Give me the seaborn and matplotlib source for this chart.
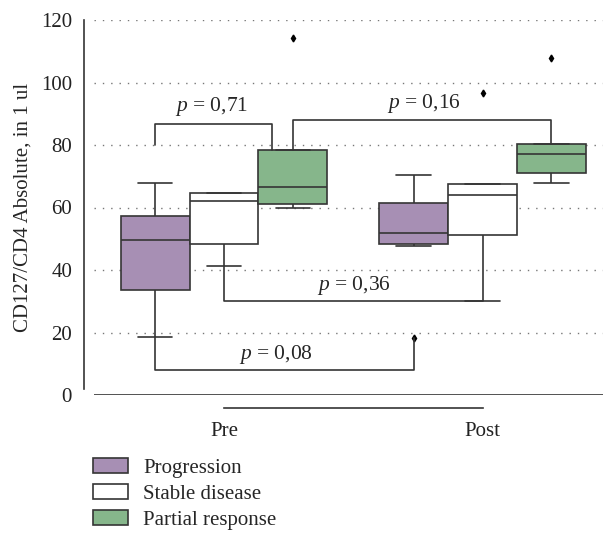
import pandas as pd
import matplotlib
matplotlib.use('Agg')
import matplotlib.pyplot as plt
import seaborn as sns
import numpy as np

# values (per group: whisker ends, quartiles, median, outliers)
times = ['Pre', 'Post']
responses = ['Progression', 'Stable disease', 'Partial response']
colors = ['#A78FB4', '#FFFFFF', '#86B68B']

pre_progression = [18.7, 28.0, 33.6, 42.0, 49.7, 54.0, 57.4, 62.0, 67.8]
pre_stable = [41.4, 45.0, 48.4, 55.0, 62.2, 63.0, 64.5, 64.5, 64.5]
pre_partial = [60.0, 60.5, 61.0, 64.0, 66.7, 72.0, 78.5, 78.5, 114.3]
post_progression = [18.1, 47.8, 48.4, 50.0, 52.0, 57.0, 61.4, 65.0, 70.4]
post_stable = [30.1, 45.0, 51.2, 60.0, 64.1, 66.0, 67.4, 67.4, 96.8]
post_partial = [67.8, 69.5, 71.1, 74.0, 77.1, 79.0, 80.3, 80.3, 107.9]

p_labels = ['0,71', '0,16', '0,36', '0,08']

groups = {
    ('Pre', 'Progression'): pre_progression,
    ('Pre', 'Stable disease'): pre_stable,
    ('Pre', 'Partial response'): pre_partial,
    ('Post', 'Progression'): post_progression,
    ('Post', 'Stable disease'): post_stable,
    ('Post', 'Partial response'): post_partial,
}
rows = []
for (t, r), vals in groups.items():
    for v in vals:
        rows.append({'time': t, 'response': r, 'value': v})
df = pd.DataFrame(rows)

sns.set_style('white')
plt.rcParams['font.family'] = ['Liberation Serif', 'DejaVu Serif']
plt.rcParams['mathtext.fontset'] = 'custom'
plt.rcParams['mathtext.it'] = 'Liberation Serif:italic'
plt.rcParams['mathtext.rm'] = 'Liberation Serif'

edge = '#353535'
fig = plt.figure(figsize=(6.03, 5.33), dpi=100)
ax = fig.add_axes([94/603, 138/533, 509/603, 375/533])

for y in [20, 40, 60, 80, 100, 120]:
    ax.axhline(y, color='#777777', lw=1.0, ls=(0, (1, 5)), zorder=0)
ax.axhline(0, color=edge, lw=1.2, zorder=1)

sns.boxplot(data=df, x='time', y='value', hue='response', order=times,
            hue_order=responses, palette=colors, width=0.8, gap=0,
            linewidth=1.2, linecolor=edge, saturation=1, ax=ax,
            flierprops=dict(marker='d', markersize=3.5,
                            markerfacecolor='black', markeredgecolor='black'))

w = 0.8 / 3
kw = dict(color=edge, lw=1.2, zorder=3)
fs = 15
pfs = 15.5
# p = 0,71
ax.plot([-w, -w, 0.186, 0.186], [80, 86.6, 86.6, 78.5], **kw)
ax.text(-0.05, 88.5, '$p$ = ' + p_labels[0], ha='center', va='bottom', fontsize=pfs)
# p = 0,16
ax.plot([w, w, 1 + w, 1 + w], [78.5, 88, 88, 80.3], **kw)
ax.text(0.774, 89.5, '$p$ = ' + p_labels[1], ha='center', va='bottom', fontsize=pfs)
# p = 0,36
ax.plot([0, 0, 1], [41.4, 30.1, 30.1], **kw)
ax.text(0.503, 31.5, '$p$ = ' + p_labels[2], ha='center', va='bottom', fontsize=pfs)
# p = 0,08
ax.plot([-w, -w, 1 - w, 1 - w], [18.7, 8, 8, 18.1], **kw)
ax.text(0.2, 9.2, '$p$ = ' + p_labels[3], ha='center', va='bottom', fontsize=pfs)

ax.set_xlim(-0.503, 1.466)
ax.set_ylim(0, 120)
ax.set_yticks([0, 20, 40, 60, 80, 100, 120])
ax.set_xlabel('')
ax.set_ylabel('CD127/CD4 Absolute, in 1 ul', fontsize=fs)
ax.yaxis.set_label_coords(-0.12, 0.5)

sns.despine(ax=ax)
ax.spines['left'].set_position(('outward', 7.2))
ax.spines['bottom'].set_position(('outward', 9.4))
ax.spines['left'].set_bounds(2, 120)
ax.spines['bottom'].set_bounds(0, 1)
for s in ['left', 'bottom']:
    ax.spines[s].set_color(edge)
    ax.spines[s].set_linewidth(1.2)
ax.tick_params(axis='both', length=0, labelsize=fs, colors='#222222')
ax.tick_params(axis='y', pad=8.6)
ax.tick_params(axis='x', pad=10.2)

handles, labels = ax.get_legend_handles_labels()
ax.get_legend().remove()
fig.legend(handles, labels, loc='upper left', bbox_to_anchor=(93/603, 1 - 458/533),
           frameon=False, fontsize=fs, handlelength=1.68, handleheight=0.72,
           handletextpad=0.72, labelspacing=0.3, borderpad=0, borderaxespad=0)

fig.savefig('out.png', dpi=100)
